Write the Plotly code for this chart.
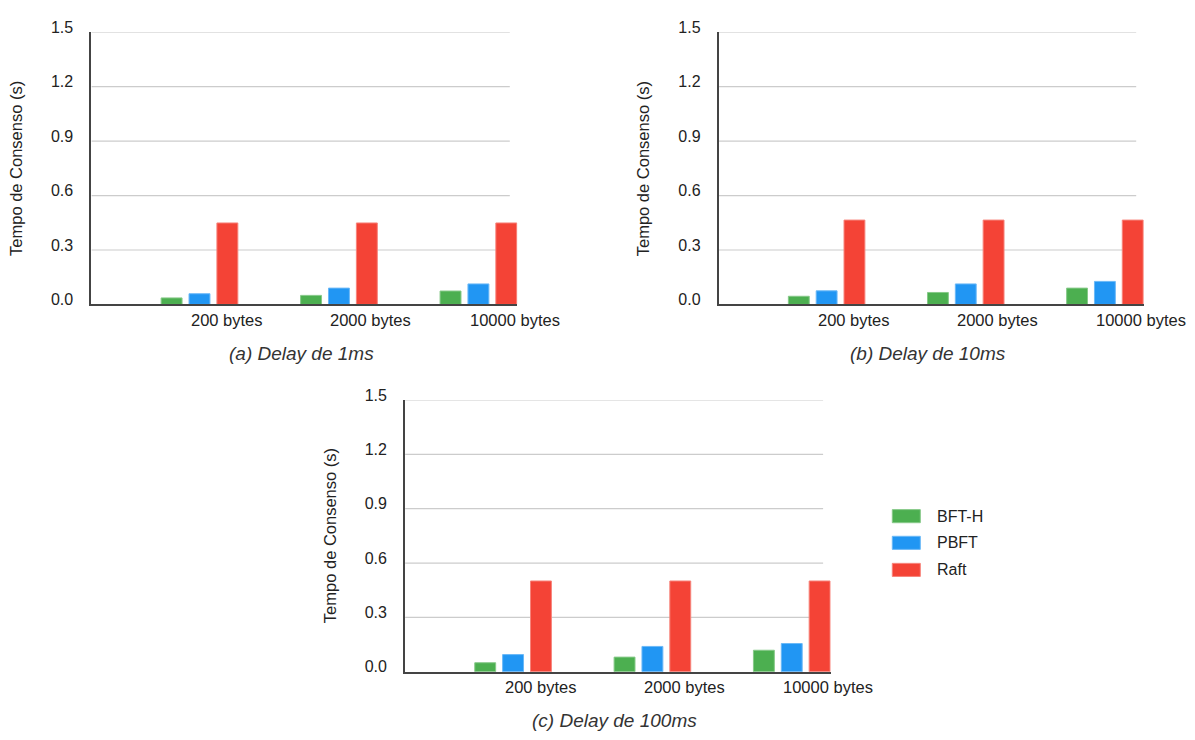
import plotly.graph_objects as go

# ---------------- data ----------------
categories = ["200 bytes", "2000 bytes", "10000 bytes"]
series_names = ["BFT-H", "PBFT", "Raft"]
panel_titles = ["(a) Delay de 1ms", "(b) Delay de 10ms", "(c) Delay de 100ms"]
y_title = "Tempo de Consenso (s)"
y_ticks = [0.0, 0.3, 0.6, 0.9, 1.2, 1.5]
y_tick_labels = ["0.0", "0.3", "0.6", "0.9", "1.2", "1.5"]

bfth_1ms = [0.036, 0.050, 0.074]
pbft_1ms = [0.059, 0.090, 0.113]
raft_1ms = [0.449, 0.449, 0.449]

bfth_10ms = [0.045, 0.066, 0.090]
pbft_10ms = [0.075, 0.113, 0.127]
raft_10ms = [0.465, 0.465, 0.465]

bfth_100ms = [0.050, 0.081, 0.119]
pbft_100ms = [0.095, 0.140, 0.156]
raft_100ms = [0.501, 0.501, 0.501]

# ---------------- styling / layout ----------------
W, H = 1195, 740
FONT = "Arial, Liberation Sans, sans-serif"
colors = ["#4CAF50", "#2196F3", "#F44336"]
edge_colors = ["#86c988", "#6ab8f7", "#f7837a"]
bar_offsets = [0.0, 0.2, 0.4]
bar_width = 0.15
x_max = 2.555

# pixel geometry of the three panels
panels = [
    dict(left=91.4, grid_end=509.8, top=19.7, bot=298.3, ytx=16.6, tx=301.0, ty=348.3, cy=314.3),
    dict(left=718.8, grid_end=1136.2, top=19.7, bot=298.3, ytx=642.9, tx=927.7, ty=348.3, cy=314.3),
    dict(left=405.1, grid_end=823.1, top=396.0, bot=674.3, ytx=330.3, tx=614.7, ty=724.3, cy=690.3),
]
panel_data = [
    [bfth_1ms, pbft_1ms, raft_1ms],
    [bfth_10ms, pbft_10ms, raft_10ms],
    [bfth_100ms, pbft_100ms, raft_100ms],
]


def px(x):
    return x / W


def py(y):
    return 1 - y / H


fig = go.Figure()
shapes = []
annotations = []
layout_axes = {}
x_idx = list(range(len(categories)))

for p, (geo, series) in enumerate(zip(panels, panel_data)):
    suffix = "" if p == 0 else str(p + 1)
    xa, ya = "x" + suffix, "y" + suffix
    band = (geo["grid_end"] - geo["left"]) / 3.0
    right = geo["left"] + (x_max + 0.5) * band
    layout_axes["xaxis" + suffix] = dict(
        domain=[px(geo["left"]), px(right)], range=[-0.5, x_max],
        anchor=ya, showgrid=False, zeroline=False, showticklabels=False,
        showline=True, linecolor="#444444", linewidth=2, ticks="",
        fixedrange=True,
    )
    layout_axes["yaxis" + suffix] = dict(
        domain=[py(geo["bot"]), py(geo["top"])], range=[0, 1.5],
        anchor=xa, showgrid=False, zeroline=False,
        showline=True, linecolor="#444444", linewidth=2,
        tickvals=y_ticks, ticktext=y_tick_labels, ticks="",
        ticklabelstandoff=13, ticklabelshift=-5,
        tickfont=dict(family=FONT, size=16, color="#222222"),
        fixedrange=True,
    )
    for s, vals in enumerate(series):
        fig.add_trace(go.Bar(
            x=x_idx, y=vals, width=bar_width, offset=bar_offsets[s],
            marker=dict(color=colors[s], line=dict(color=edge_colors[s], width=1)),
            name=series_names[s], showlegend=False, xaxis=xa, yaxis=ya,
        ))
    for v in y_ticks[1:]:
        shapes.append(dict(type="line", xref=xa, yref=ya, x0=-0.5, x1=2.5, y0=v, y1=v,
                           line=dict(color="#cccccc", width=1.2), layer="below"))
    for i, c in enumerate(categories):
        annotations.append(dict(x=x_idx[i] + 0.2, y=py(geo["cy"]), xref=xa, yref="paper",
                                text=c, showarrow=False, xanchor="left", yanchor="middle",
                                font=dict(family=FONT, size=16.5, color="#222222")))
    annotations.append(dict(x=px(geo["ytx"]), y=py((geo["top"] + geo["bot"]) / 2),
                            xref="paper", yref="paper", text=y_title, textangle=-90,
                            showarrow=False, xanchor="center", yanchor="middle",
                            font=dict(family=FONT, size=16.5, color="#222222")))
    annotations.append(dict(x=px(geo["tx"]), y=py(geo["ty"]), xref="paper", yref="paper",
                            text="<i>" + panel_titles[p] + "</i>", showarrow=False,
                            xanchor="center", yanchor="middle",
                            font=dict(family=FONT, size=19, color="#333333")))

# legend (swatches + labels)
leg_x0, leg_x1 = 892.3, 920.3
leg_y = [515.0, 542.3, 570.0]
for s, name in enumerate(series_names):
    shapes.append(dict(type="rect", xref="paper", yref="paper",
                       x0=px(leg_x0), x1=px(leg_x1), y0=py(leg_y[s] + 6.7), y1=py(leg_y[s] - 6.7),
                       fillcolor=colors[s], line=dict(color=edge_colors[s], width=1)))
    annotations.append(dict(x=px(935), y=py(leg_y[s]), xref="paper", yref="paper",
                            text=name, showarrow=False, xanchor="left", yanchor="middle",
                            font=dict(family=FONT, size=16, color="#222222")))

fig.update_layout(
    width=W, height=H, autosize=False,
    margin=dict(l=0, r=0, t=0, b=0),
    paper_bgcolor="white", plot_bgcolor="rgba(0,0,0,0)",
    barmode="overlay", showlegend=False,
    shapes=shapes, annotations=annotations,
    **layout_axes,
)

fig.write_html(
    "out.html",
    config={"displayModeBar": False},
    post_script="document.body.style.margin='0px'; document.body.style.overflow='hidden';",
)
